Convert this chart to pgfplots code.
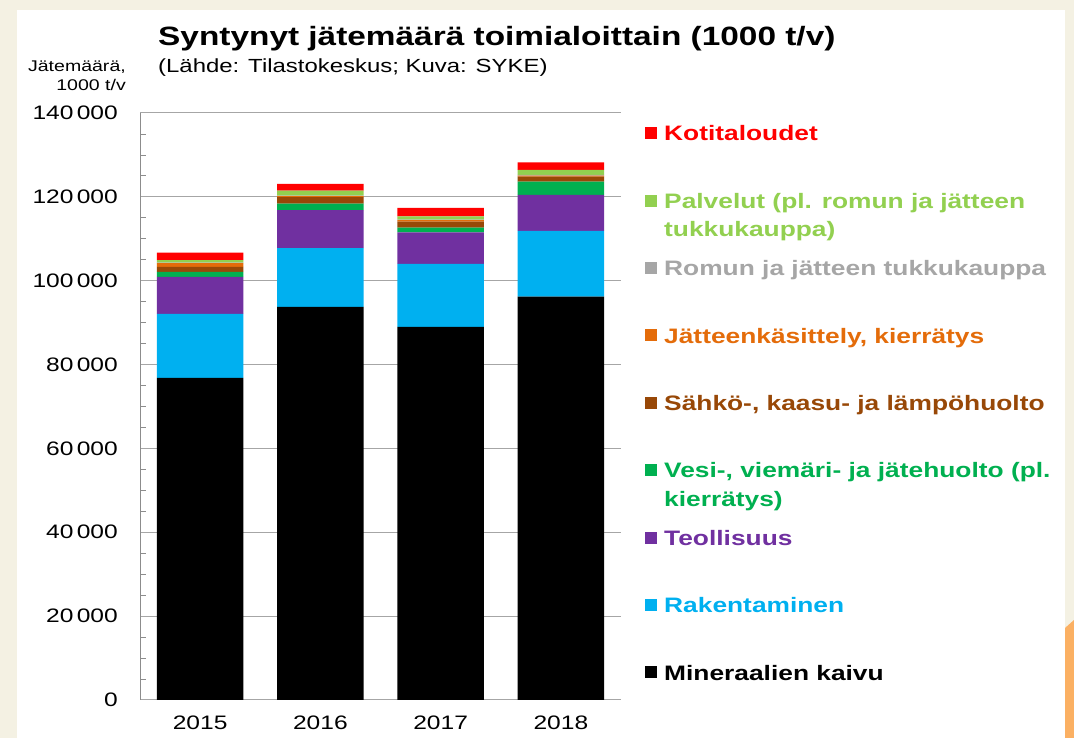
\documentclass[border=0pt]{standalone}
\usepackage{fontspec}
\setmainfont{Liberation Sans}[FakeStretch=1.26]
\usepackage{pgfplots}
\usepackage{pgfplotstable}
\pgfplotsset{compat=1.18}
\definecolor{cMin}{HTML}{000000}
\definecolor{cRak}{HTML}{00B0F0}
\definecolor{cTeo}{HTML}{7030A0}
\definecolor{cVes}{HTML}{00B050}
\definecolor{cSah}{HTML}{984807}
\definecolor{cJat}{HTML}{E46C0A}
\definecolor{cRom}{HTML}{A6A6A6}
\definecolor{cPal}{HTML}{92D050}
\definecolor{cKot}{HTML}{FF0000}
\definecolor{bgbeige}{HTML}{F4F1E3}
\definecolor{orng}{HTML}{FBB063}
\definecolor{gridgray}{HTML}{A6A6A6}
\definecolor{axisgray}{HTML}{8C8C8C}

\pgfplotstableread{
x mi ra te ve sa ja ro pa ko
0 76800 15270 8830 1190 1190 900 150 560 1830
1 93730 14070 9060 1510 1590 240 100 1190 1590
2 88960 15030 7540 1110 1430 400 100 800 1990
3 96190 15670 8590 3180 1190 250 150 1190 1830
}\data

\begin{document}
\begin{tikzpicture}
\useasboundingbox (0pt,0pt) rectangle (1074pt,738pt);
\fill[bgbeige] (0pt,0pt) rectangle (1074pt,738pt);
\fill[white] (17pt,0pt) rectangle (1065pt,728pt);
\fill[orng] (1074pt,118pt) -- (1065pt,110pt) -- (1065pt,0pt) -- (1074pt,0pt) -- cycle;

\node[anchor=base west, inner sep=0pt, font=\bfseries\fontsize{26.5}{30}\selectfont] at (158pt,692pt) {Syntynyt jätemäärä toimialoittain (1000 t/v)};
\node[anchor=base west, inner sep=0pt, font=\fontsize{19}{22}\selectfont] at (158pt,665pt) {(Lähde: Tilastokeskus; Kuva: SYKE)};
\node[anchor=base east, inner sep=0pt, font=\fontsize{15.5}{18}\selectfont] at (126pt,666pt) {Jätemäärä,};
\node[anchor=base east, inner sep=0pt, font=\fontsize{15.5}{18}\selectfont] at (126pt,647pt) {1000 t/v};

\begin{axis}[
  at={(140pt,38pt)}, anchor=south west,
  scale only axis, width=481pt, height=587pt,
  ybar stacked, bar width=0.72,
  xmin=-0.5, xmax=3.5, ymin=0, ymax=140000,
  xtick={0,1,2,3}, xticklabels={2015,2016,2017,2018},
  ytick={0,20000,40000,60000,80000,100000,120000,140000},
  minor y tick num=3,
  scaled y ticks=false,
  yticklabel style={/pgf/number format/fixed, /pgf/number format/1000 sep={\,}, inner sep=0pt, xshift=-22pt},
  /pgf/number format/assume math mode=true,
  xticklabel style={inner sep=0pt, yshift=-16pt},
  ticklabel style={font=\fontsize{19.5}{22}\selectfont},
  axis x line*=bottom, axis y line*=left,
  axis line style={draw=axisgray, line width=1pt},
  x axis line style={draw=gridgray},
  ymajorgrids, grid style={draw=gridgray, line width=1pt},
  major x tick style={draw=none},
  major y tick style={draw=none},
  minor y tick style={draw=axisgray, line width=0.8pt},
  minor tick length=6pt, tick align=inside,
  legend image code/.code={\fill[#1] (0pt,-5.3pt) rectangle (12pt,6.7pt); \path (19pt,0pt);},
  reverse legend,
  legend cell align=left,
  legend style={at={(1.0499,0.9835)}, anchor=north west, draw=none, fill=none, inner sep=0pt, row sep=45.4pt,
    font=\bfseries\fontsize{20.9}{28.7}\selectfont,
    nodes={inner sep=0pt, text height=18pt, text depth=4pt}},
]
\addplot[fill=cMin, draw=none] table[x=x, y=mi] {\data};
\addlegendentry{\textcolor{cMin}{Mineraalien kaivu}}
\addplot[fill=cRak, draw=none] table[x=x, y=ra] {\data};
\addlegendentry{\textcolor{cRak}{Rakentaminen}}
\addplot[fill=cTeo, draw=none] table[x=x, y=te] {\data};
\addlegendentry{\textcolor{cTeo}{Teollisuus}}
\addplot[fill=cVes, draw=none] table[x=x, y=ve] {\data};
\addlegendentry{\textcolor{cVes}{\begin{tabular}[t]{@{}l@{}}Vesi-, viemäri- ja jätehuolto (pl.\\kierrätys)\end{tabular}}}
\addplot[fill=cSah, draw=none] table[x=x, y=sa] {\data};
\addlegendentry{\textcolor{cSah}{Sähkö-, kaasu- ja lämpöhuolto}}
\addplot[fill=cJat, draw=none] table[x=x, y=ja] {\data};
\addlegendentry{\textcolor{cJat}{Jätteenkäsittely, kierrätys}}
\addplot[fill=cRom, draw=none] table[x=x, y=ro] {\data};
\addlegendentry{\textcolor{cRom}{Romun ja jätteen tukkukauppa}}
\addplot[fill=cPal, draw=none] table[x=x, y=pa] {\data};
\addlegendentry{\textcolor{cPal}{\begin{tabular}[t]{@{}l@{}}Palvelut (pl. romun ja jätteen\\tukkukauppa)\end{tabular}}}
\addplot[fill=cKot, draw=none] table[x=x, y=ko] {\data};
\addlegendentry{\textcolor{cKot}{Kotitaloudet}}
\end{axis}
\end{tikzpicture}
\end{document}
